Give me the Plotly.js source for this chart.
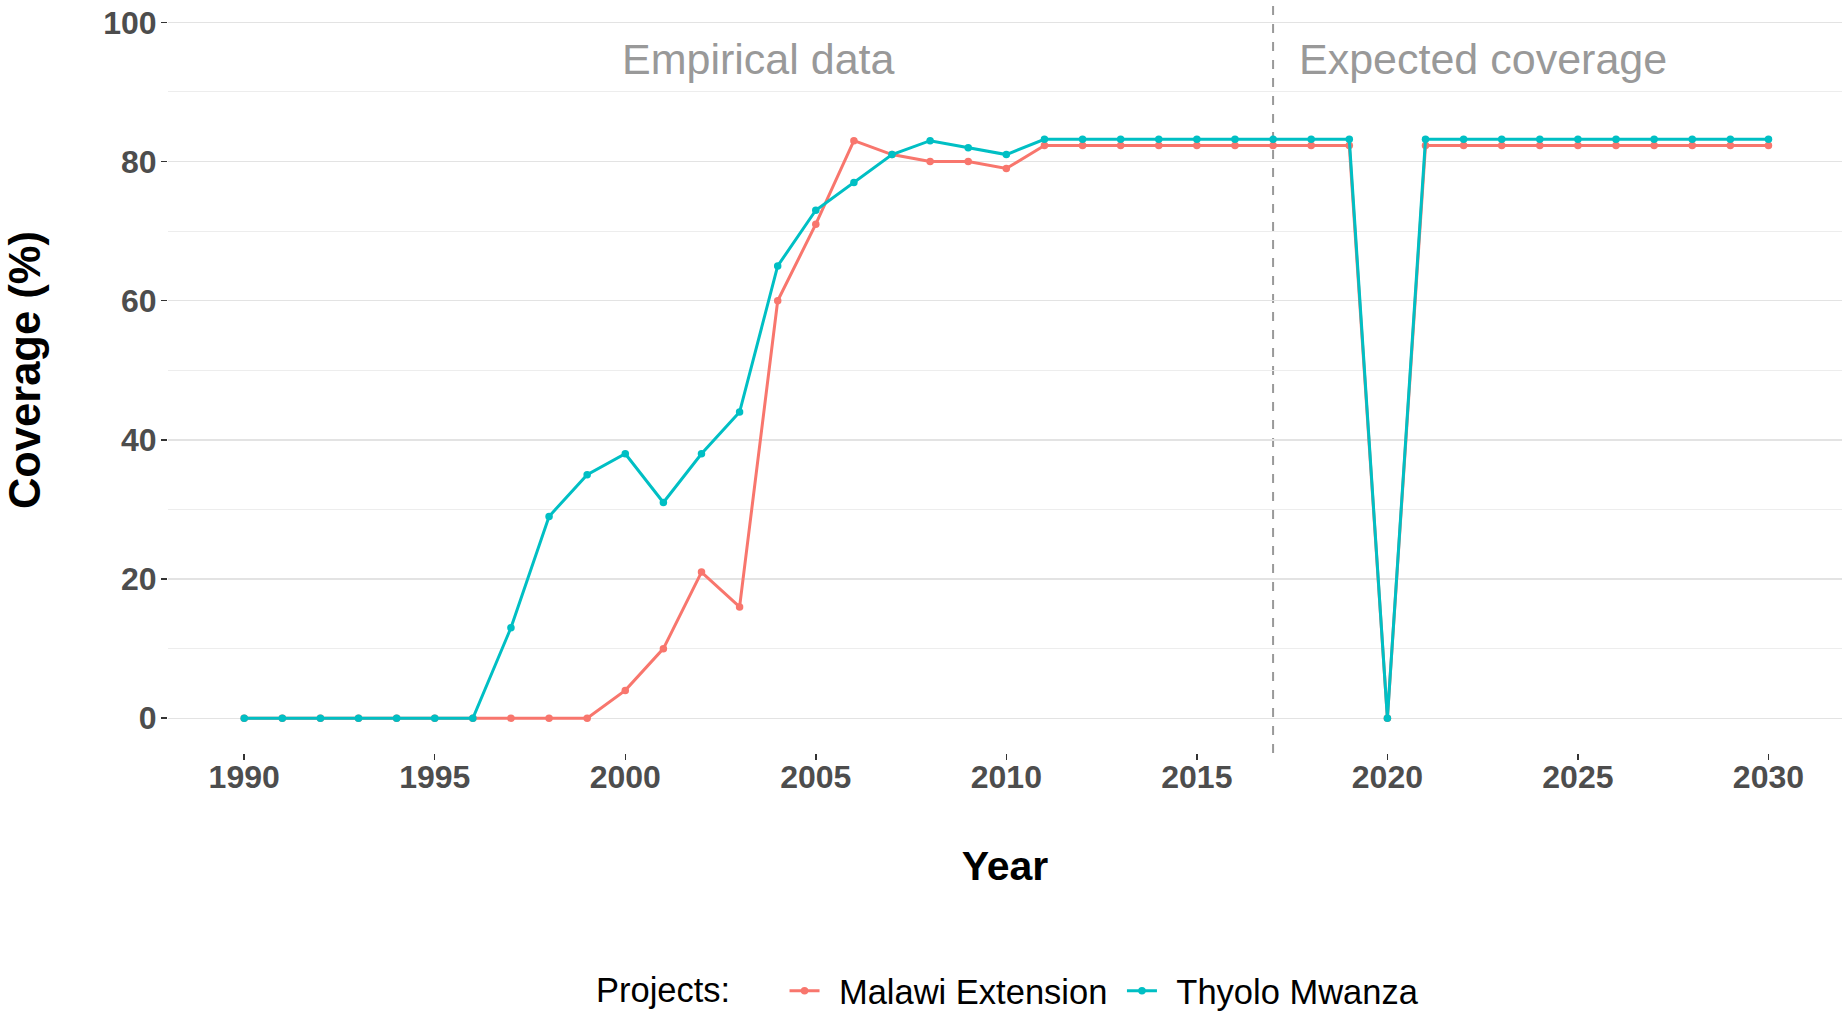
<!DOCTYPE html>
<html>
<head>
<meta charset="utf-8">
<script src="https://cdn.plot.ly/plotly-3.0.1.min.js"></script>
<style>
  html, body { margin: 0; padding: 0; background: #ffffff; }
  #chart { width: 1842px; height: 1012px; }
</style>
</head>
<body>
<div id="chart"></div>
<script>
// ---- Data ----
const years = [1990,1991,1992,1993,1994,1995,1996,1997,1998,1999,
               2000,2001,2002,2003,2004,2005,2006,2007,2008,2009,
               2010,2011,2012,2013,2014,2015,2016,2017,2018,2019,
               2020,2021,2022,2023,2024,2025,2026,2027,2028,2029,2030];

const malawiExtension = [0,0,0,0,0,0,0,0,0,0,
                         4,10,21,16,60,71,83,81,80,80,
                         79,82.3,82.3,82.3,82.3,82.3,82.3,82.3,82.3,82.3,
                         0,82.3,82.3,82.3,82.3,82.3,82.3,82.3,82.3,82.3,82.3];

const thyoloMwanza = [0,0,0,0,0,0,0,13,29,35,
                      38,31,38,44,65,73,77,81,83,82,
                      81,83.2,83.2,83.2,83.2,83.2,83.2,83.2,83.2,83.2,
                      0,83.2,83.2,83.2,83.2,83.2,83.2,83.2,83.2,83.2,83.2];

const seriesNames = ["Malawi Extension", "Thyolo Mwanza"];
const seriesColors = ["#F8766D", "#00BFC4"];
const xTicks = [1990, 1995, 2000, 2005, 2010, 2015, 2020, 2025, 2030];
const yTicks = [0, 20, 40, 60, 80, 100];
const splitYear = 2017;
const periodLabels = ["Empirical data", "Expected coverage"];
const periodLabelX = [2003.5, 2022.5];
const periodLabelY = 94.75;
const legendTitle = "Projects:";
const yTitle = "Coverage (%)";
const xTitle = "Year";

const FONT = "Liberation Sans, Arial, Helvetica, sans-serif";
const NB = "\u00A0";
const LEAD = "\u2005\u2006";

const traces = [malawiExtension, thyoloMwanza].map((vals, i) => ({
  type: "scatter",
  mode: "lines+markers",
  x: years,
  y: vals,
  name: LEAD + seriesNames[i] + (i === 0 ? NB : ""),
  line: { color: seriesColors[i], width: 3 },
  marker: { color: seriesColors[i], size: 7.5 },
  cliponaxis: false
}));

const layout = {
  width: 1842,
  height: 1012,
  paper_bgcolor: "#ffffff",
  plot_bgcolor: "#ffffff",
  margin: { l: 168, r: 0, t: 5, b: 259, pad: 0 },
  font: { family: FONT, color: "#000000" },
  xaxis: {
    range: [1988, 2031.93],
    tickvals: xTicks,
    ticktext: xTicks.map(String),
    showgrid: false,
    zeroline: false,
    showline: false,
    ticks: "outside",
    ticklen: 6,
    tickwidth: 1.5,
    tickcolor: "#333333",
    ticklabelstandoff: -10,
    tickfont: { family: FONT, size: 32, color: "#4D4D4D", weight: "bold" },
    title: { text: "<b>" + xTitle + "</b>", font: { family: FONT, size: 41, color: "#000000" }, standoff: 56 }
  },
  yaxis: {
    range: [-5, 102.5],
    tickvals: yTicks,
    ticktext: yTicks.map(String),
    showgrid: true,
    gridcolor: "#E3E3E3",
    gridwidth: 1.4,
    zeroline: false,
    showline: false,
    ticks: "outside",
    ticklen: 6,
    tickwidth: 1.5,
    tickcolor: "#333333",
    ticklabelstandoff: -2,
    tickfont: { family: FONT, size: 32, color: "#4D4D4D", weight: "bold" },
    minor: { dtick: 10, tick0: 0, showgrid: true, gridcolor: "#EDEDED", gridwidth: 1, ticks: "" }
  },
  shapes: [{
    type: "line",
    xref: "x", yref: "paper",
    x0: splitYear, x1: splitYear, y0: 0, y1: 1,
    line: { color: "#999999", width: 2, dash: "dash" },
    layer: "below"
  }],
  annotations: periodLabels.map((t, i) => ({
    x: periodLabelX[i], y: periodLabelY,
    xref: "x", yref: "y",
    text: t,
    showarrow: false,
    font: { family: FONT, size: 43, color: "#999999" },
    xanchor: "center", yanchor: "middle"
  })).concat([
    {
      // y-axis title
      xref: "paper", yref: "paper",
      x: -0.0855, y: 0.5117,
      text: "<b>" + yTitle + "</b>",
      textangle: -90,
      showarrow: false,
      font: { family: FONT, size: 43.5, color: "#000000" },
      xanchor: "center", yanchor: "middle"
    },
    {
      // legend title
      xref: "paper", yref: "paper",
      x: 0.2543, y: -0.3175,
      text: legendTitle,
      showarrow: false,
      font: { family: FONT, size: 34.5, color: "#000000" },
      xanchor: "left", yanchor: "middle"
    }
  ]),
  showlegend: true,
  legend: {
    orientation: "h",
    xref: "paper", x: 0.3683, xanchor: "left",
    yref: "container", y: 0.021, yanchor: "middle",
    font: { family: FONT, size: 34.5, color: "#000000" },
    bgcolor: "rgba(0,0,0,0)"
  }
};

Plotly.newPlot("chart", traces, layout, { displayModeBar: false, staticPlot: true });
</script>
</body>
</html>
